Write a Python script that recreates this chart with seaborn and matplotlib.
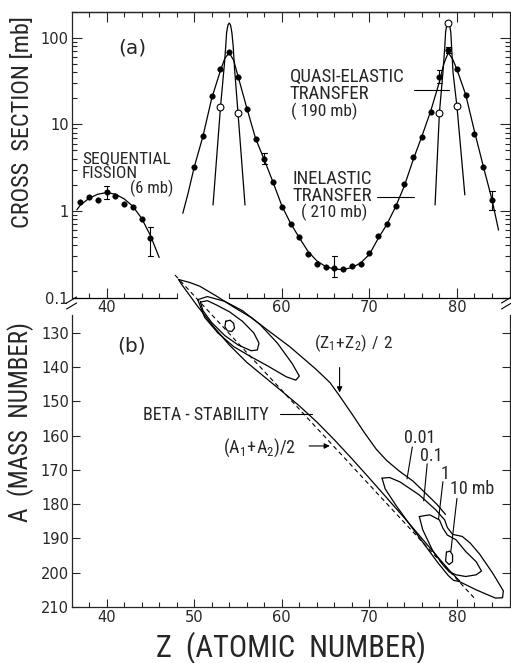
import numpy as np
import pandas as pd
import matplotlib
matplotlib.use("Agg")
import matplotlib.pyplot as plt
import seaborn as sns
from matplotlib import font_manager
from matplotlib.lines import Line2D
from matplotlib.ticker import FixedLocator, NullFormatter, LogLocator

# ---------------- DATA ---------------- #
# (a) sequential fission
fis_z = [37, 38, 39, 40, 41, 42, 43, 44, 45]
fis_s = [1.26, 1.43, 1.35, 1.64, 1.49, 1.19, 1.12, 0.80, 0.49]
fis_err_z = [40, 45]
fis_err_lo = [1.36, 0.30]
fis_err_hi = [1.96, 0.66]
fis_fit_z = [36.6, 37, 38, 39, 40, 41, 42, 43, 44, 45, 46]
fis_fit_s = [1.03, 1.17, 1.40, 1.56, 1.63, 1.56, 1.38, 1.13, 0.82, 0.52, 0.29]

# (a) inelastic transfer (filled points)
inel_z = [50, 51, 52, 53, 54, 55, 56, 57, 58, 59, 60, 61, 62, 63, 64, 65, 66, 67,
          68, 69, 70, 71, 72, 73, 74, 75, 76, 77, 78, 79, 80, 81, 82, 83, 84]
inel_s = [3.25, 7.4, 21.3, 43, 68, 35, 15.2, 6.7, 4.0, 2.18, 1.12, 0.71, 0.50, 0.32,
          0.242, 0.224, 0.221, 0.214, 0.229, 0.245, 0.324, 0.513, 0.70, 1.14, 2.04,
          4.18, 7.1, 14.0, 35.2, 71.3, 43.5, 21.9, 7.7, 3.25, 1.34]
inel_err_z = [58, 66, 78, 79, 84]
inel_err_lo = [3.5, 0.174, 30.4, 66, 1.03]
inel_err_hi = [4.7, 0.30, 41.9, 79, 1.72]
inel_fit_z = [48.7, 49.3, 50, 51, 52, 53, 53.5, 54, 54.5, 55, 56, 57, 58, 59, 60, 61,
              62, 63, 64, 65, 66, 67, 68, 69, 70, 71, 72, 73, 74, 75, 76, 77, 78,
              78.5, 79, 79.5, 80, 81, 82, 83, 84, 84.75]
inel_fit_s = [0.94, 1.6, 3.2, 7.3, 20, 42, 58, 67, 55, 36, 15.5, 6.9, 3.9, 2.15, 1.15,
              0.72, 0.49, 0.34, 0.265, 0.228, 0.213, 0.21, 0.222, 0.25, 0.315, 0.48,
              0.70, 1.12, 1.95, 3.9, 7.3, 14.2, 31, 50, 67, 57, 43, 22, 8.3, 3.3, 1.35,
              0.6]

# (a) quasi-elastic transfer (open points)
qe_z = [53, 55, 78, 79, 80]
qe_s = [15.8, 13.5, 13.7, 150, 16.1]
qe1_z = [52.15, 53.0, 53.45, 53.6, 53.7, 53.85, 54.0, 54.15, 54.3, 54.45, 54.6, 55.0, 55.8]
qe1_s = [1.17, 15.8, 50, 80, 115, 140, 148, 140, 115, 80, 45, 13.5, 1.17]
qe2_z = [77.5, 78.0, 78.4, 78.6, 78.7, 78.85, 79.0, 79.15, 79.3, 79.4, 79.55, 80.0, 80.9]
qe2_s = [1.17, 13.7, 40, 75, 115, 143, 150, 143, 115, 75, 40, 16.1, 1.53]

# (b) contour lines in the (Z, A) plane
c001 = [(78.7, 183.0), (77.7, 180.0), (76.5, 177.0), (75.0, 173.3), (73.4, 170.3),
        (72.0, 167.3), (70.8, 164.0), (69.4, 159.0), (68.1, 154.0), (66.6, 148.4),
        (65.5, 144.5), (63.9, 140.6), (60.9, 134.0), (58.6, 129.6), (56.5, 125.5),
        (54.4, 122.3), (52.5, 119.2), (50.65, 116.4), (49.5, 115.3), (48.2, 114.4),
        (48.55, 115.8), (50.26, 121.8), (52.15, 128.0), (54.0, 133.5), (56.0, 138.6),
        (58.0, 142.8), (60.0, 147.0), (62.0, 151.3), (64.0, 156.0), (66.0, 161.2),
        (68.0, 166.7), (70.0, 172.4), (72.0, 178.2), (74.0, 184.0), (76.0, 190.0),
        (78.0, 196.0), (79.2, 199.5), (80.3, 202.4)]
c01_a = [(50.4, 120.3), (51.5, 119.4), (53.5, 120.8), (55.5, 123.5), (57.5, 127.5),
         (59.5, 133.0), (61.2, 139.0), (62.0, 142.6), (61.6, 143.8), (60.5, 142.8),
         (58.5, 139.8), (56.5, 137.0), (54.5, 134.0), (52.7, 130.0), (51.2, 125.5),
         (50.4, 120.3)]
c1_a = [(50.7, 121.0), (51.5, 120.6), (52.5, 121.8), (54.0, 123.8), (55.5, 126.6),
        (56.8, 130.0), (57.4, 133.0), (57.2, 135.0), (56.5, 135.2), (55.0, 133.5),
        (53.5, 130.8), (52.0, 127.0), (51.0, 123.5), (50.7, 121.0)]
c10_a = [(53.6, 126.6), (54.1, 126.3), (54.5, 127.2), (54.6, 128.6), (54.3, 129.6),
         (53.8, 129.4), (53.5, 128.2), (53.6, 126.6)]
c01_b = [(71.45, 172.4), (72.3, 172.2), (73.5, 173.5), (75.7, 177.3), (77.6, 181.7),
         (78.6, 184.6), (78.9, 186.8), (79.5, 188.8), (80.6, 189.4), (81.5, 191.3),
         (82.6, 194.6), (84.1, 200.2), (85.3, 205.3), (85.2, 207.3), (84.4, 207.4),
         (82.2, 205.0), (80.3, 202.6), (79.6, 202.2), (79.0, 200.8), (77.8, 197.0),
         (76.5, 192.5), (74.8, 186.6), (73.0, 180.2), (71.8, 175.5), (71.45, 172.4)]
c1_b = [(75.7, 183.6), (76.9, 183.1), (78.0, 184.6), (78.4, 187.0), (78.9, 189.0),
        (79.9, 190.4), (81.0, 193.8), (82.2, 196.8), (82.8, 199.5), (82.2, 200.6),
        (81.0, 201.1), (79.9, 200.6), (79.1, 199.7), (78.4, 197.7), (77.2, 193.4),
        (76.1, 187.5), (75.7, 183.6)]
c10_b = [(78.8, 194.0), (79.2, 193.7), (79.5, 194.8), (79.5, 196.8), (79.1, 197.6),
         (78.7, 196.6), (78.8, 194.0)]
half_a = [(47.8, 113.1), (82.2, 208.0)]

# tick values
z_major = [40, 50, 60, 70, 80]
z_minor = [38, 42, 44, 46, 48, 52, 54, 56, 58, 62, 64, 66, 68, 72, 74, 76, 78, 82, 84]
a_ticks = [130, 140, 150, 160, 170, 180, 190, 200, 210]

# ---------------- STYLE ---------------- #
sns.set_style("ticks")
avail = {f.name for f in font_manager.fontManager.ttflist}
narrow = next((f for f in ["Liberation Sans Narrow", "DejaVu Sans Condensed",
                           "Roboto Condensed"] if f in avail), "DejaVu Sans")
plt.rcParams["font.family"] = [narrow, "DejaVu Sans"]
plt.rcParams["mathtext.fontset"] = "custom"
plt.rcParams["mathtext.rm"] = narrow
plt.rcParams["axes.linewidth"] = 0.9
LW = 0.9
TICKFONT = dict(family="DejaVu Sans", size=10.5)

W, H = 511, 663
fig = plt.figure(figsize=(W / 100, H / 100), dpi=100)
x0, x1 = 71.6, 509.5
ax1 = fig.add_axes([x0 / W, 1 - 297.5 / H, (x1 - x0) / W, (297.5 - 11.7) / H])
ax2 = fig.add_axes([x0 / W, 1 - 607 / H, (x1 - x0) / W, (607 - 300) / H])
ax2.patch.set_alpha(0)

# ---------------- PANEL (a) ---------------- #
ax1.set_yscale("log")
sns.lineplot(x=fis_fit_z, y=fis_fit_s, ax=ax1, color="k", lw=LW, sort=False, estimator=None)
sns.lineplot(x=inel_fit_z, y=inel_fit_s, ax=ax1, color="k", lw=LW, sort=False, estimator=None)
sns.lineplot(x=qe1_z, y=qe1_s, ax=ax1, color="k", lw=LW, sort=False, estimator=None)
sns.lineplot(x=qe2_z, y=qe2_s, ax=ax1, color="k", lw=LW, sort=False, estimator=None)
sns.scatterplot(x=fis_z, y=fis_s, ax=ax1, color="k", s=16, edgecolor="k", zorder=3)
sns.scatterplot(x=inel_z, y=inel_s, ax=ax1, color="k", s=16, edgecolor="k", zorder=3)
sns.scatterplot(x=qe_z, y=qe_s, ax=ax1, color="white", s=24, edgecolor="k",
                linewidth=0.8, zorder=4)
for ez, lo, hi in zip(fis_err_z + inel_err_z, fis_err_lo + inel_err_lo, fis_err_hi + inel_err_hi):
    ax1.plot([ez, ez], [lo, hi], color="k", lw=0.8)
    ax1.plot([ez - 0.3, ez + 0.3], [lo, lo], color="k", lw=0.8)
    ax1.plot([ez - 0.3, ez + 0.3], [hi, hi], color="k", lw=0.8)

ax1.set_xlim(36, 86)
ax1.set_ylim(0.1, 200)
ax1.set_ylabel("CROSS  SECTION [mb]", fontsize=17.5)
ax1.yaxis.set_label_coords(-0.085, 0.615)
ax1.set_xlabel("")
ax1.xaxis.set_major_locator(FixedLocator([40, 60, 70, 80]))
ax1.xaxis.set_minor_locator(FixedLocator([38, 42, 44, 46, 48, 54, 56, 58, 62, 64, 66,
                                          68, 72, 74, 76, 78, 82, 84]))
ax1.yaxis.set_major_locator(FixedLocator([0.1, 1, 10, 100]))
ax1.yaxis.set_minor_locator(LogLocator(base=10, subs=range(2, 10)))
ax1.yaxis.set_minor_formatter(NullFormatter())
ax1.set_yticklabels(["0.1", "1", "10", "100"], **TICKFONT)
ax1.set_xticklabels(["40", "60", "70", "80"], **TICKFONT)
ax1.tick_params(which="major", direction="in", length=7, width=0.8, left=True,
                right=True, bottom=True, top=False, pad=2)
ax1.tick_params(which="minor", direction="in", length=3.5, width=0.8, left=True,
                right=True, bottom=True, top=False)
top = ax1.secondary_xaxis("top")
top.xaxis.set_major_locator(FixedLocator(z_major))
top.xaxis.set_minor_locator(FixedLocator(z_minor))
top.tick_params(which="major", direction="in", length=7, width=0.8, labeltop=False)
top.tick_params(which="minor", direction="in", length=3.5, width=0.8)
top.spines["top"].set_linewidth(0.9)
ax1.spines["bottom"].set_visible(False)
ax1.axhline(0.1, xmin=0, xmax=(48 - 36) / 50, color="k", lw=0.9, clip_on=False)
ax1.axhline(0.1, xmin=(54 - 36) / 50, xmax=1, color="k", lw=0.9, clip_on=False)

ax1.text(42.9, 76, "(a)", fontsize=14.5, family="DejaVu Sans", ha="center", va="center")
ax1.text(37.2, 4.0, "SEQUENTIAL", fontsize=12.5, va="center")
ax1.text(37.2, 2.72, "FISSION", fontsize=12.5, va="center")
ax1.text(42.65, 1.84, "(6 mb)", fontsize=12, va="center")
ax1.text(60.9, 35.4, "QUASI-ELASTIC", fontsize=13.5, va="center")
ax1.text(60.9, 22.3, "TRANSFER", fontsize=13.5, va="center")
ax1.text(61.0, 14.2, "( 190 mb)", fontsize=12.5, va="center")
ax1.plot([75.1, 79.1], [25, 25], color="k", lw=0.8)
ax1.text(61.2, 2.34, "INELASTIC", fontsize=13.5, va="center")
ax1.text(61.2, 1.49, "TRANSFER", fontsize=13.5, va="center")
ax1.text(62.2, 0.95, "( 210 mb)", fontsize=12.5, va="center")
ax1.plot([70.9, 75.1], [1.45, 1.45], color="k", lw=0.8)

# ---------------- PANEL (b) ---------------- #
for pts in [c001, c01_a, c1_a, c10_a, c01_b, c1_b, c10_b]:
    d = pd.DataFrame(pts, columns=["Z", "A"])
    sns.lineplot(data=d, x="Z", y="A", ax=ax2, color="k", lw=LW, sort=False, estimator=None)
d = pd.DataFrame(half_a, columns=["Z", "A"])
sns.lineplot(data=d, x="Z", y="A", ax=ax2, color="k", lw=0.8, sort=False, estimator=None)
ax2.lines[-1].set_dashes([4, 3])
for ln in ax2.lines:
    ln.set_clip_on(False)

ax2.set_xlim(36, 86)
ax2.set_ylim(210, 120.4)
ax2.set_xlabel("Z  (ATOMIC  NUMBER)", fontsize=22, labelpad=5)
ax2.set_ylabel("A  (MASS  NUMBER)", fontsize=18)
ax2.yaxis.set_label_coords(-0.085, 0.604)
ax2.xaxis.set_major_locator(FixedLocator(z_major))
ax2.xaxis.set_minor_locator(FixedLocator(z_minor))
ax2.set_xticklabels([str(v) for v in z_major], **TICKFONT)
ax2.yaxis.set_major_locator(FixedLocator(a_ticks))
ax2.set_yticklabels([str(v) for v in a_ticks], **TICKFONT)
ax2.tick_params(which="major", direction="in", length=6, width=0.8, left=True,
                right=True, bottom=True, top=False, pad=2)
ax2.tick_params(which="minor", direction="in", length=3.5, width=0.8, bottom=True)
ax2.spines["top"].set_visible(False)
ax2.spines["left"].set_bounds(210, 124.7)
ax2.spines["right"].set_bounds(210, 124.7)

ax2.text(42.9, 133.8, "(b)", fontsize=14.5, family="DejaVu Sans", ha="center", va="center")
ax2.text(63.7, 133.1, r"$\mathregular{(Z_1\!+\!Z_2)\ /\ 2}$", fontsize=12.5, va="center")
ax2.annotate("", xy=(66.6, 148.2), xytext=(66.6, 139.3),
             arrowprops=dict(arrowstyle="-|>", color="k", lw=0.8, mutation_scale=8))
ax2.text(44.2, 154.0, "BETA - STABILITY", fontsize=13, va="center")
ax2.plot([59.75, 63.4], [153.8, 153.8], color="k", lw=0.8)
ax2.text(53.3, 163.5, r"$\mathregular{(A_1\!+\!A_2)/2}$", fontsize=13, va="center")
ax2.annotate("", xy=(65.8, 163.0), xytext=(62.8, 163.0),
             arrowprops=dict(arrowstyle="-|>", color="k", lw=0.8, mutation_scale=8))
ax2.text(75.7, 160.8, "0.01", fontsize=13, ha="center", va="center")
ax2.plot([74.9, 74.3], [163.3, 172.6], color="k", lw=0.8)
ax2.text(77.1, 165.9, "0.1", fontsize=13, ha="center", va="center")
ax2.plot([76.6, 76.2], [168.2, 179.0], color="k", lw=0.8)
ax2.text(78.6, 171.1, "1", fontsize=13, ha="center", va="center")
ax2.plot([78.4, 77.9], [173.4, 184.3], color="k", lw=0.8)
ax2.text(79.2, 175.7, "10 mb", fontsize=13, va="center")
ax2.plot([80.0, 79.3], [178.3, 193.8], color="k", lw=0.8)

# axis-break marks
for xb in (x0, x1 - 3):
    for yb in (300, 306):
        fig.add_artist(Line2D([(xb - 5) / W, (xb + 5) / W], [1 - (yb + 3) / H, 1 - (yb - 3) / H],
                              color="k", lw=0.8))

fig.savefig("out.png", dpi=100)
